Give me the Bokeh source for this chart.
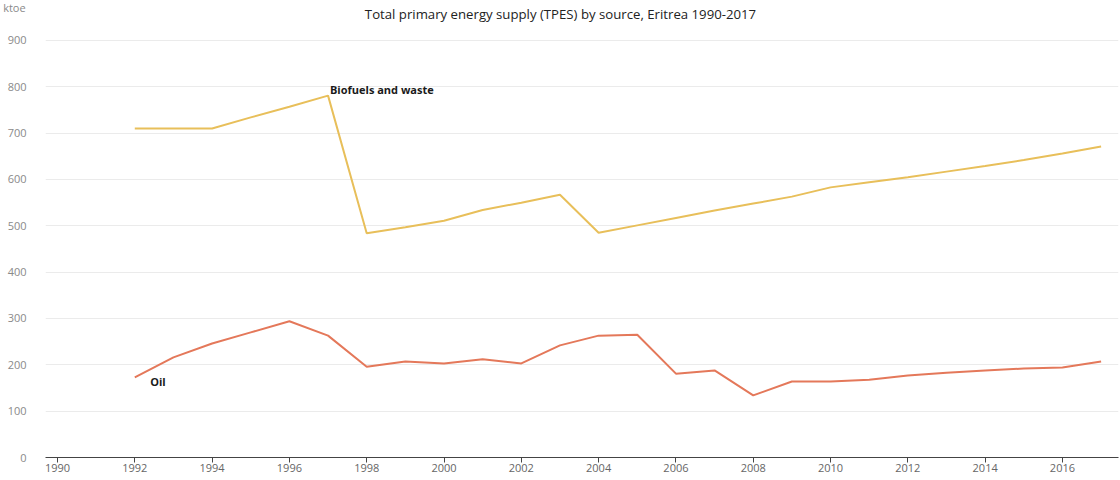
from bokeh.plotting import figure
from bokeh.models import Label, Range1d, FixedTicker
from bokeh.embed import file_html
from bokeh.resources import INLINE

years = list(range(1992, 2018))
biofuels = [710, 710, 710, 734, 757, 781, 484, 497, 511, 534, 550, 567, 485, 501,
            517, 533, 548, 563, 583, 594, 605, 617, 629, 642, 656, 671]
oil = [173, 216, 246, 270, 294, 263, 196, 207, 203, 212, 203, 242, 263, 265,
       181, 188, 134, 164, 164, 168, 177, 183, 188, 192, 194, 207]
x_ticks = list(range(1990, 2017, 2))
y_ticks = list(range(0, 1000, 100))

FONT = "Open Sans"
X0, X1 = 1989.69, 2017.45
Y_TOP = 971.2  # headroom above 900 for the title

p = figure(width=1120, height=480, output_backend="svg", toolbar_location=None,
           x_range=Range1d(X0, X1), y_range=Range1d(0, Y_TOP),
           min_border_left=45, min_border_right=2, min_border_top=7, min_border_bottom=23)
p.outline_line_color = None
p.background_fill_color = "white"
p.border_fill_color = "white"

p.xgrid.grid_line_color = None
p.ygrid.grid_line_color = "#ebebeb"
p.ygrid.ticker = FixedTicker(ticks=y_ticks)

p.xaxis.ticker = FixedTicker(ticks=x_ticks)
p.xaxis.axis_line_color = "#444444"
p.xaxis.major_tick_line_color = "#444444"
p.xaxis.major_tick_out = 5
p.xaxis.major_tick_in = 0
p.xaxis.minor_tick_line_color = None
p.xaxis.major_label_standoff = 1
p.xaxis.major_label_text_font = FONT
p.xaxis.major_label_text_font_size = "11px"
p.xaxis.major_label_text_color = "#666666"

p.yaxis.ticker = FixedTicker(ticks=y_ticks)
p.yaxis.axis_line_color = None
p.yaxis.major_tick_line_color = None
p.yaxis.minor_tick_line_color = None
p.yaxis.major_label_standoff = 13
p.yaxis.major_label_text_font = FONT
p.yaxis.major_label_text_font_size = "11px"
p.yaxis.major_label_text_color = "#8a8a8a"
p.yaxis.axis_label = "ktoe"
p.yaxis.axis_label_orientation = "horizontal"
p.yaxis.axis_label_align = "end"
p.yaxis.axis_label_standoff = -21
p.yaxis.axis_label_text_font = FONT
p.yaxis.axis_label_text_font_size = "11px"
p.yaxis.axis_label_text_font_style = "normal"
p.yaxis.axis_label_text_color = "#8a8a8a"

p.line(years, biofuels, line_color="#E8BF5A", line_width=2)
p.line(years, oil, line_color="#E4785A", line_width=2)

p.add_layout(Label(x=1997.05, y=795, text="Biofuels and waste", text_font=FONT,
                   text_font_size="11px", text_font_style="bold", text_color="#1a1a1a",
                   text_baseline="middle", text_align="left"))
p.add_layout(Label(x=1992.4, y=164, text="Oil", text_font=FONT,
                   text_font_size="11px", text_font_style="bold", text_color="#1a1a1a",
                   text_baseline="middle", text_align="left"))

# title inside the frame's headroom; screen units from the frame's bottom-left
p.add_layout(Label(x=515, y=453, x_units="screen", y_units="screen",
                   text="Total primary energy supply (TPES) by source, Eritrea 1990-2017",
                   text_font=FONT, text_font_size="13.2px", text_color="#222222",
                   text_baseline="top", text_align="center"))

open("out.html", "w").write(file_html(p, INLINE))
